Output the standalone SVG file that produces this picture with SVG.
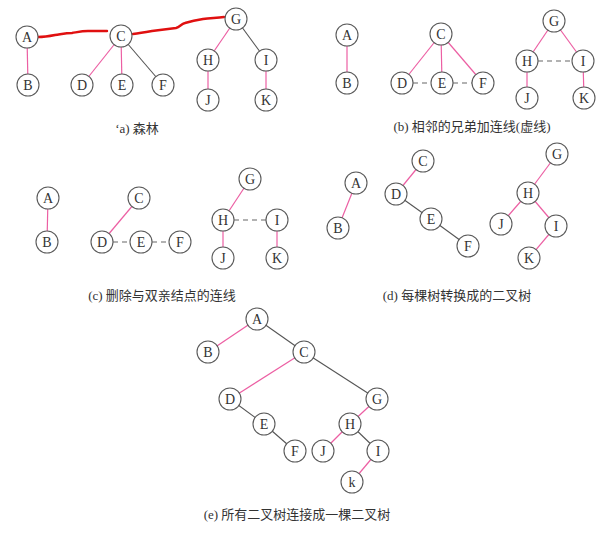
<svg xmlns="http://www.w3.org/2000/svg" width="609" height="534" viewBox="0 0 609 534">
<style>
.n circle{fill:#fff;stroke:#5a5a5a;stroke-width:1.1}
.n text{font-family:"Liberation Serif",serif;font-size:14px;fill:#333;text-anchor:middle;dominant-baseline:central}
.p{stroke:#ec5fa3;stroke-width:1.2;fill:none}
.g{stroke:#555;stroke-width:1.1;fill:none}
.d{stroke:#666;stroke-width:1.1;stroke-dasharray:5 4;fill:none}
.r{stroke:#e01010;stroke-width:2.4;fill:none;stroke-linecap:round;stroke-linejoin:round}
.cap{font-family:"Liberation Serif","Noto Sans CJK SC",serif;font-size:13px;fill:#333;text-anchor:middle}
</style>
<rect width="609" height="534" fill="#fff"/>
<g id="connectors">
<line class="p" x1="27" y1="37" x2="28" y2="85"/>
<line class="p" x1="121" y1="36" x2="82" y2="85"/>
<line class="p" x1="121" y1="36" x2="122" y2="85"/>
<line class="g" x1="121" y1="36" x2="163" y2="85"/>
<line class="p" x1="236" y1="19" x2="208" y2="60"/>
<line class="g" x1="236" y1="19" x2="266" y2="60"/>
<line class="p" x1="208" y1="60" x2="208" y2="100"/>
<line class="p" x1="266" y1="60" x2="266" y2="100"/>
<line class="p" x1="347" y1="35" x2="347" y2="83"/>
<line class="p" x1="441" y1="34" x2="402" y2="83"/>
<line class="p" x1="441" y1="34" x2="442" y2="83"/>
<line class="p" x1="441" y1="34" x2="483" y2="83"/>
<line class="d" x1="413" y1="83" x2="431" y2="83"/>
<line class="d" x1="453" y1="83" x2="472" y2="83"/>
<line class="p" x1="554" y1="21" x2="527" y2="61"/>
<line class="p" x1="554" y1="21" x2="583" y2="61"/>
<line class="d" x1="538" y1="61" x2="572" y2="61"/>
<line class="p" x1="527" y1="61" x2="527" y2="98"/>
<line class="p" x1="583" y1="61" x2="584" y2="98"/>
<line class="p" x1="48" y1="198" x2="47" y2="242"/>
<line class="p" x1="139" y1="198" x2="102" y2="242"/>
<line class="d" x1="113" y1="242" x2="130" y2="242"/>
<line class="d" x1="152" y1="242" x2="169" y2="242"/>
<line class="p" x1="250" y1="179" x2="223" y2="220"/>
<line class="d" x1="234" y1="220" x2="266" y2="220"/>
<line class="p" x1="223" y1="220" x2="223" y2="258"/>
<line class="p" x1="277" y1="220" x2="277" y2="258"/>
<line class="p" x1="356" y1="183" x2="338" y2="228"/>
<line class="p" x1="423" y1="161" x2="396" y2="194"/>
<line class="g" x1="396" y1="194" x2="431" y2="219"/>
<line class="g" x1="431" y1="219" x2="468" y2="246"/>
<line class="p" x1="557" y1="154" x2="528" y2="193"/>
<line class="p" x1="528" y1="193" x2="501" y2="224"/>
<line class="p" x1="528" y1="193" x2="556" y2="226"/>
<line class="p" x1="556" y1="226" x2="529" y2="258"/>
<line class="p" x1="257" y1="319" x2="208" y2="352"/>
<line class="g" x1="257" y1="319" x2="304" y2="352"/>
<line class="p" x1="304" y1="352" x2="230" y2="399"/>
<line class="g" x1="304" y1="352" x2="377" y2="399"/>
<line class="g" x1="230" y1="399" x2="264" y2="424"/>
<line class="g" x1="264" y1="424" x2="295" y2="451"/>
<line class="p" x1="377" y1="399" x2="350" y2="424"/>
<line class="p" x1="350" y1="424" x2="323" y2="451"/>
<line class="g" x1="350" y1="424" x2="378" y2="451"/>
<line class="p" x1="378" y1="451" x2="352" y2="482"/>
<path class="r" d="M38,37 C45,37 50,36 55,35 C62,34 66,33 72,33 C78,32 82,31 88,31 C95,31 101,31 107,31"/>
<path class="r" d="M133,34 C140,33 146,32 152,31 C160,30 168,29 176,28 C180,27 181,24 185,23 C192,21 197,20 203,19 C210,18 216,18 224,17"/>
</g>
<g id="tree-a">
<g id="a-A" class="n"><circle cx="27" cy="37" r="11"/><text x="27" y="37">A</text></g>
<g id="a-B" class="n"><circle cx="28" cy="85" r="11"/><text x="28" y="85">B</text></g>
<g id="a-C" class="n"><circle cx="121" cy="36" r="11"/><text x="121" y="36">C</text></g>
<g id="a-D" class="n"><circle cx="82" cy="85" r="11"/><text x="82" y="85">D</text></g>
<g id="a-E" class="n"><circle cx="122" cy="85" r="11"/><text x="122" y="85">E</text></g>
<g id="a-F" class="n"><circle cx="163" cy="85" r="11"/><text x="163" y="85">F</text></g>
<g id="a-G" class="n"><circle cx="236" cy="19" r="11"/><text x="236" y="19">G</text></g>
<g id="a-H" class="n"><circle cx="208" cy="60" r="11"/><text x="208" y="60">H</text></g>
<g id="a-I" class="n"><circle cx="266" cy="60" r="11"/><text x="266" y="60">I</text></g>
<g id="a-J" class="n"><circle cx="208" cy="100" r="11"/><text x="208" y="100">J</text></g>
<g id="a-K" class="n"><circle cx="266" cy="100" r="11"/><text x="266" y="100">K</text></g>
</g>
<g id="tree-b">
<g id="b-A" class="n"><circle cx="347" cy="35" r="11"/><text x="347" y="35">A</text></g>
<g id="b-B" class="n"><circle cx="347" cy="83" r="11"/><text x="347" y="83">B</text></g>
<g id="b-C" class="n"><circle cx="441" cy="34" r="11"/><text x="441" y="34">C</text></g>
<g id="b-D" class="n"><circle cx="402" cy="83" r="11"/><text x="402" y="83">D</text></g>
<g id="b-E" class="n"><circle cx="442" cy="83" r="11"/><text x="442" y="83">E</text></g>
<g id="b-F" class="n"><circle cx="483" cy="83" r="11"/><text x="483" y="83">F</text></g>
<g id="b-G" class="n"><circle cx="554" cy="21" r="11"/><text x="554" y="21">G</text></g>
<g id="b-H" class="n"><circle cx="527" cy="61" r="11"/><text x="527" y="61">H</text></g>
<g id="b-I" class="n"><circle cx="583" cy="61" r="11"/><text x="583" y="61">I</text></g>
<g id="b-J" class="n"><circle cx="527" cy="98" r="11"/><text x="527" y="98">J</text></g>
<g id="b-K" class="n"><circle cx="584" cy="98" r="11"/><text x="584" y="98">K</text></g>
</g>
<g id="tree-c">
<g id="c-A" class="n"><circle cx="48" cy="198" r="11"/><text x="48" y="198">A</text></g>
<g id="c-B" class="n"><circle cx="47" cy="242" r="11"/><text x="47" y="242">B</text></g>
<g id="c-C" class="n"><circle cx="139" cy="198" r="11"/><text x="139" y="198">C</text></g>
<g id="c-D" class="n"><circle cx="102" cy="242" r="11"/><text x="102" y="242">D</text></g>
<g id="c-E" class="n"><circle cx="141" cy="242" r="11"/><text x="141" y="242">E</text></g>
<g id="c-F" class="n"><circle cx="180" cy="242" r="11"/><text x="180" y="242">F</text></g>
<g id="c-G" class="n"><circle cx="250" cy="179" r="11"/><text x="250" y="179">G</text></g>
<g id="c-H" class="n"><circle cx="223" cy="220" r="11"/><text x="223" y="220">H</text></g>
<g id="c-I" class="n"><circle cx="277" cy="220" r="11"/><text x="277" y="220">I</text></g>
<g id="c-J" class="n"><circle cx="223" cy="258" r="11"/><text x="223" y="258">J</text></g>
<g id="c-K" class="n"><circle cx="277" cy="258" r="11"/><text x="277" y="258">K</text></g>
</g>
<g id="tree-d">
<g id="d-A" class="n"><circle cx="356" cy="183" r="11"/><text x="356" y="183">A</text></g>
<g id="d-B" class="n"><circle cx="338" cy="228" r="11"/><text x="338" y="228">B</text></g>
<g id="d-C" class="n"><circle cx="423" cy="161" r="11"/><text x="423" y="161">C</text></g>
<g id="d-D" class="n"><circle cx="396" cy="194" r="11"/><text x="396" y="194">D</text></g>
<g id="d-E" class="n"><circle cx="431" cy="219" r="11"/><text x="431" y="219">E</text></g>
<g id="d-F" class="n"><circle cx="468" cy="246" r="11"/><text x="468" y="246">F</text></g>
<g id="d-G" class="n"><circle cx="557" cy="154" r="11"/><text x="557" y="154">G</text></g>
<g id="d-H" class="n"><circle cx="528" cy="193" r="11"/><text x="528" y="193">H</text></g>
<g id="d-J" class="n"><circle cx="501" cy="224" r="11"/><text x="501" y="224">J</text></g>
<g id="d-I" class="n"><circle cx="556" cy="226" r="11"/><text x="556" y="226">I</text></g>
<g id="d-K" class="n"><circle cx="529" cy="258" r="11"/><text x="529" y="258">K</text></g>
</g>
<g id="tree-e">
<g id="e-A" class="n"><circle cx="257" cy="319" r="11"/><text x="257" y="319">A</text></g>
<g id="e-B" class="n"><circle cx="208" cy="352" r="11"/><text x="208" y="352">B</text></g>
<g id="e-C" class="n"><circle cx="304" cy="352" r="11"/><text x="304" y="352">C</text></g>
<g id="e-D" class="n"><circle cx="230" cy="399" r="11"/><text x="230" y="399">D</text></g>
<g id="e-E" class="n"><circle cx="264" cy="424" r="11"/><text x="264" y="424">E</text></g>
<g id="e-F" class="n"><circle cx="295" cy="451" r="11"/><text x="295" y="451">F</text></g>
<g id="e-G" class="n"><circle cx="377" cy="399" r="11"/><text x="377" y="399">G</text></g>
<g id="e-H" class="n"><circle cx="350" cy="424" r="11"/><text x="350" y="424">H</text></g>
<g id="e-J" class="n"><circle cx="323" cy="451" r="11"/><text x="323" y="451">J</text></g>
<g id="e-I" class="n"><circle cx="378" cy="451" r="11"/><text x="378" y="451">I</text></g>
<g id="e-K" class="n"><circle cx="352" cy="482" r="11"/><text x="352" y="482">k</text></g>
</g>
<g id="captions">
<text class="cap" x="137" y="133">‘a) 森林</text>
<text class="cap" x="472" y="131">(b) 相邻的兄弟加连线(虚线)</text>
<text class="cap" x="162" y="300">(c) 删除与双亲结点的连线</text>
<text class="cap" x="457" y="300">(d) 每棵树转换成的二叉树</text>
<text class="cap" x="297" y="519">(e) 所有二叉树连接成一棵二叉树</text>
</g>
</svg>
